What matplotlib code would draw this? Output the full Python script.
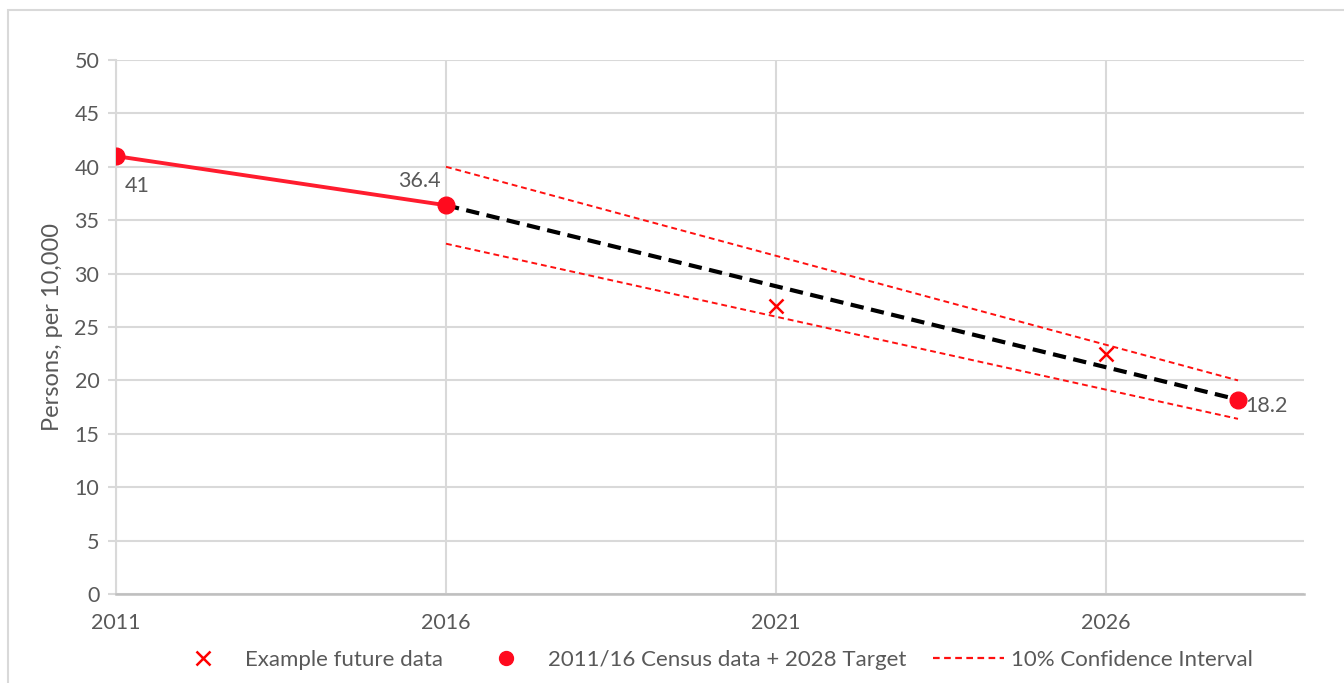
import matplotlib.pyplot as plt
from matplotlib.patches import Rectangle

plt.rcParams['font.family'] = ['Lato', 'DejaVu Sans']

census_years = [2011, 2016, 2028]
census_values = [41, 36.4, 18.2]
future_years = [2021, 2026]
future_values = [27, 22.5]
ci_years = [2016, 2028]
ci_upper = [40.0, 20.0]
ci_lower = [32.8, 16.4]
xticks = [2011, 2016, 2021, 2026]

grey = '#595959'
grid_c = '#d9d9d9'
fs = 15.5

fig = plt.figure(figsize=(13.44, 6.83), dpi=100)
ax = fig.add_axes([116 / 1344, 1 - 594 / 683, (1304 - 116) / 1344, (594 - 60) / 683])

# outer chart border
fig.patches.append(Rectangle((8 / 1344, -0.1), 1.2, 1 - 10 / 683 + 0.1,
                             transform=fig.transFigure, fill=False,
                             edgecolor='#d9d9d9', lw=1.5))

ax.set_xlim(2011, 2029)
ax.set_ylim(0, 50)
ax.set_xticks(xticks)
ax.set_yticks(range(0, 51, 5))
ax.grid(True, color=grid_c, lw=1.5)
ax.set_axisbelow(True)
for s in ['top', 'right']:
    ax.spines[s].set_visible(False)
ax.spines['left'].set_color(grid_c)
ax.spines['left'].set_linewidth(1.5)
ax.spines['bottom'].set_color('#bfbfbf')
ax.spines['bottom'].set_linewidth(1.8)
ax.tick_params(axis='y', colors=grey, labelsize=fs, length=6, width=1.5,
               color=grid_c, pad=6)
ax.tick_params(axis='x', colors=grey, labelsize=fs, length=0, pad=14)

# census solid part and target dashed part
ax.plot(census_years[:2], census_values[:2], color='#ff1c2e', lw=2.8, zorder=3)
ax.plot(census_years[1:], census_values[1:], color='black', lw=3,
        dashes=(3.2, 1.8), zorder=3)
ax.plot(ci_years, ci_upper, color='#ff1010', lw=1.4, dashes=(3, 2), zorder=3)
ax.plot(ci_years, ci_lower, color='#ff1010', lw=1.4, dashes=(3, 2), zorder=3)
ax.plot(census_years, census_values, 'o', color='#ff0a1e', ms=12, zorder=4)
ax.plot(future_years, future_values, 'x', color='#ff0000', ms=10, mew=1.8, zorder=4)

ax.annotate('41', (census_years[0], census_values[0]), xytext=(6, -26),
            textcoords='offset points', color=grey, fontsize=fs)
ax.annotate('36.4', (census_years[1], census_values[1]), xytext=(-4, 13),
            textcoords='offset points', color=grey, fontsize=fs, ha='right')
ax.annotate('18.2', (census_years[2], census_values[2]), xytext=(5, -9),
            textcoords='offset points', color=grey, fontsize=fs)

ax.set_ylabel('Persons, per 10,000', color=grey, fontsize=17, labelpad=8)

h1 = plt.Line2D([], [], ls='none', marker='x', color='#ff0000', ms=10, mew=1.8)
h2 = plt.Line2D([], [], ls='none', marker='o', color='#ff0a1e', ms=10)
h3 = plt.Line2D([], [], color='#ff1010', lw=1.6, dashes=(3, 2))
leg = fig.legend([h1, h2, h3],
                 ['Example future data', '2011/16 Census data + 2028 Target',
                  '10% Confidence Interval'],
                 loc='center', bbox_to_anchor=(710 / 1344, 1 - 660 / 683), ncol=3,
                 frameon=False, fontsize=16, handlelength=3.2,
                 columnspacing=1.2, handletextpad=0.3)
for t in leg.get_texts():
    t.set_color(grey)

fig.savefig('out.png', dpi=100)
